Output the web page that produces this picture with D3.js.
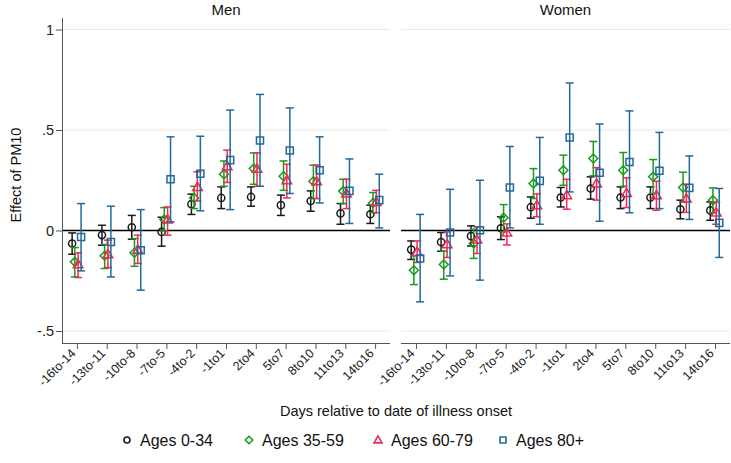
<!DOCTYPE html>
<html><head><meta charset="utf-8">
<script src="https://cdn.jsdelivr.net/npm/d3@7"></script>
<style>body{margin:0;background:#fff}svg{display:block;font-family:Arial,"Liberation Sans",sans-serif}</style>
</head><body><svg id="c" width="731" height="463"></svg>
<script>
const categories = ["-16to-14","-13to-11","-10to-8","-7to-5","-4to-2","-1to1","2to4","5to7","8to10","11to13","14to16"];
const seriesNames = ["Ages 0-34","Ages 35-59","Ages 60-79","Ages 80+"];
const panels = ["Men","Women"];
const yTicks = [-0.5, 0, 0.5, 1];
const yTickLabels = ["-.5","0",".5","1"];

// Men: estimates, lower and upper CI for each age group
const menEst = [
  [-0.065,-0.023,0.016,-0.007,0.131,0.162,0.167,0.126,0.147,0.085,0.081],
  [-0.156,-0.126,-0.111,0.055,0.162,0.280,0.308,0.270,0.245,0.196,0.137],
  [-0.168,-0.118,-0.095,0.055,0.217,0.320,0.308,0.250,0.245,0.184,0.142],
  [-0.032,-0.057,-0.098,0.255,0.282,0.350,0.448,0.398,0.300,0.197,0.151]
];
const menLo = [
  [-0.118,-0.073,-0.043,-0.078,0.080,0.109,0.121,0.075,0.096,0.031,0.035],
  [-0.231,-0.189,-0.178,-0.002,0.109,0.220,0.230,0.200,0.159,0.134,0.088],
  [-0.234,-0.184,-0.164,-0.023,0.147,0.239,0.220,0.162,0.159,0.109,0.088],
  [-0.201,-0.231,-0.297,0.043,0.098,0.104,0.220,0.184,0.137,0.035,0.013]
];
const menHi = [
  [-0.012,0.026,0.075,0.066,0.181,0.217,0.217,0.176,0.197,0.134,0.126],
  [-0.085,-0.070,-0.040,0.114,0.220,0.346,0.386,0.346,0.325,0.255,0.189],
  [-0.111,-0.048,-0.023,0.117,0.292,0.400,0.386,0.330,0.325,0.255,0.200],
  [0.134,0.121,0.104,0.466,0.469,0.599,0.677,0.610,0.466,0.356,0.280]
];
// Women
const womenEst = [
  [-0.095,-0.057,-0.028,0.011,0.116,0.164,0.209,0.164,0.164,0.106,0.100],
  [-0.198,-0.169,-0.065,0.063,0.234,0.300,0.358,0.300,0.267,0.214,0.151],
  [-0.106,-0.068,-0.045,-0.010,0.126,0.176,0.234,0.187,0.176,0.159,0.090],
  [-0.139,-0.010,0.001,0.214,0.247,0.463,0.287,0.341,0.297,0.212,0.038]
];
const womenLo = [
  [-0.144,-0.103,-0.077,-0.045,0.061,0.117,0.156,0.109,0.109,0.058,0.051],
  [-0.269,-0.242,-0.139,-0.007,0.159,0.225,0.272,0.220,0.184,0.141,0.088],
  [-0.159,-0.134,-0.114,-0.072,0.068,0.106,0.151,0.114,0.101,0.090,0.031],
  [-0.355,-0.226,-0.247,0.013,0.031,0.192,0.046,0.088,0.109,0.055,-0.134]
];
const womenHi = [
  [-0.052,-0.010,0.023,0.068,0.167,0.214,0.267,0.217,0.217,0.151,0.142],
  [-0.126,-0.103,0.006,0.129,0.308,0.375,0.443,0.388,0.353,0.290,0.212],
  [-0.052,-0.007,0.018,0.033,0.182,0.255,0.313,0.262,0.245,0.229,0.141],
  [0.080,0.205,0.250,0.418,0.463,0.734,0.530,0.595,0.488,0.371,0.209]
];

const colors = ["#1a1a1a","#1a9a1a","#ee2a55","#22699a"];
// Stata-like diamond: a square rotated 45 degrees
const symDiamondSq = {draw(ctx, size){ const r = Math.sqrt(size / 2); ctx.moveTo(0,-r); ctx.lineTo(r,0); ctx.lineTo(0,r); ctx.lineTo(-r,0); ctx.closePath(); }};
const symbols = [d3.symbolCircle, symDiamondSq, d3.symbolTriangle, d3.symbolSquare];
const symSize = [40, 40, 40, 50];
const offsets = [-0.16,-0.07,0.04,0.14];

const svg = d3.select("#c");
const y = d3.scaleLinear().domain([-0.5, 1]).range([331, 29.5]);
const panelRanges = [[62, 390], [401, 730]];
const panelData = [[menEst, menLo, menHi], [womenEst, womenLo, womenHi]];
const axisY = 343;

panels.forEach((p, pi) => {
  const [x0, x1] = panelRanges[pi];
  const x = d3.scaleLinear().domain([0.5, 11.5]).range([x0, x1]);
  const g = svg.append("g");
  g.selectAll(".grid").data(yTicks.filter(t => t !== 0)).join("line")
    .attr("x1", x0).attr("x2", x1).attr("y1", d => y(d)).attr("y2", d => y(d))
    .attr("stroke", "#e9e9e9").attr("stroke-width", 1);
  g.append("text").attr("x", (x0 + x1) / 2).attr("y", 15).attr("text-anchor", "middle")
    .attr("font-size", 15).attr("fill", "#111").text(p);
  g.append("line").attr("x1", x0).attr("x2", x1).attr("y1", y(0)).attr("y2", y(0))
    .attr("stroke", "#000").attr("stroke-width", 1.4);
  const xa = d3.axisBottom(x).tickValues(d3.range(1, 12)).tickFormat(d => categories[d - 1])
    .tickSize(6).tickSizeOuter(0);
  const gx = g.append("g").attr("transform", `translate(0,${axisY})`).call(xa);
  gx.select(".domain").attr("stroke", "#555").attr("d", `M${x0},0.5H${x1}`);
  gx.selectAll(".tick line").attr("stroke", "#555");
  gx.selectAll(".tick text").attr("font-size", 12.5).attr("fill", "#222")
    .attr("text-anchor", "end").attr("dy", null).attr("y", 0)
    .attr("transform", "translate(-1,11) rotate(-45)");
  if (pi === 0) {
    const ya = d3.axisLeft(y).tickValues(yTicks).tickFormat((d, i) => yTickLabels[i]).tickSize(6).tickSizeOuter(0);
    const gy = g.append("g").attr("transform", `translate(${x0},0)`).call(ya);
    gy.select(".domain").attr("stroke", "#555").attr("d", `M0.5,18V${axisY}`);
    gy.selectAll(".tick line").attr("stroke", "#555");
    gy.selectAll(".tick text").attr("font-size", 14.5).attr("fill", "#222").attr("x", -8);
  }
  const [est, lo, hi] = panelData[pi];
  est.forEach((s, si) => {
    const gs = g.append("g").attr("stroke", colors[si]).attr("fill", "none").attr("stroke-width", 1.5);
    const pts = s.map((v, i) => ({xv: i + 1 + offsets[si], v, lo: lo[si][i], hi: hi[si][i]}));
    gs.selectAll(".ci").data(pts).join("line")
      .attr("x1", d => x(d.xv)).attr("x2", d => x(d.xv)).attr("y1", d => y(d.lo)).attr("y2", d => y(d.hi));
    gs.selectAll(".cap").data(pts.flatMap(d => [{xv: d.xv, v: d.lo}, {xv: d.xv, v: d.hi}])).join("line")
      .attr("x1", d => x(d.xv) - 4).attr("x2", d => x(d.xv) + 4).attr("y1", d => y(d.v)).attr("y2", d => y(d.v));
    gs.selectAll(".mk").data(pts).join("path")
      .attr("d", d3.symbol().type(symbols[si]).size(symSize[si]))
      .attr("transform", d => `translate(${x(d.xv)},${y(d.v) + (si === 2 ? 0.8 : 0)})`);
  });
});

svg.append("text").attr("transform", "translate(21,175) rotate(-90)").attr("text-anchor", "middle")
  .attr("font-size", 14.5).attr("fill", "#111").text("Effect of PM10");
svg.append("text").attr("x", 396).attr("y", 416).attr("text-anchor", "middle")
  .attr("font-size", 14.5).attr("fill", "#111").text("Days relative to date of illness onset");

const legX = [127, 249, 378, 503];
const lg = svg.append("g");
seriesNames.forEach((n, i) => {
  lg.append("path").attr("d", d3.symbol().type(symbols[i]).size(symSize[i] * 0.7))
    .attr("transform", `translate(${legX[i]},${440 + (i === 2 ? 0.6 : 0)})`)
    .attr("fill", "none").attr("stroke", colors[i]).attr("stroke-width", 1.6);
  lg.append("text").attr("x", legX[i] + 13).attr("y", 446).attr("font-size", 16)
    .attr("fill", "#111").text(n);
});
</script></body></html>
